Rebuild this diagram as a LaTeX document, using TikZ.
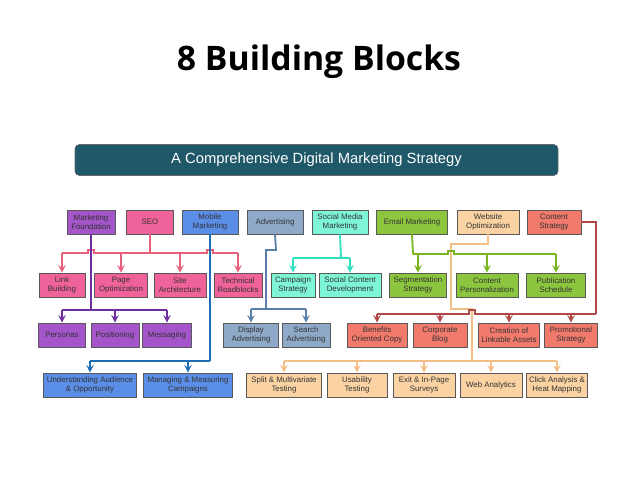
\documentclass[tikz,border=0pt]{standalone}
\usepackage{fontspec}
\setmainfont{Liberation Sans}
\newfontfamily\titlefont{Open Sans}
\usetikzlibrary{calc}

\definecolor{cPurple}{HTML}{A455C9}
\definecolor{cPink}{HTML}{F0639A}
\definecolor{cBlue}{HTML}{5B8EE6}
\definecolor{cGray}{HTML}{8FA9C9}
\definecolor{cTeal}{HTML}{7DF5D6}
\definecolor{cGreen}{HTML}{8CC63F}
\definecolor{cPeach}{HTML}{FBD3A3}
\definecolor{cRed}{HTML}{F27A6D}
\definecolor{lPurple}{HTML}{6F2FA0}
\definecolor{lPink}{HTML}{E8607A}
\definecolor{lBlue}{HTML}{1F6FB5}
\definecolor{lGray}{HTML}{5A80AA}
\definecolor{lTeal}{HTML}{2FE0C0}
\definecolor{lGreen}{HTML}{78B51E}
\definecolor{lPeach}{HTML}{F3BE88}
\definecolor{lRed}{HTML}{B24848}
\definecolor{banner}{HTML}{1F5868}

\tikzset{
  bx/.style={draw=black!65, line width=0.6pt, align=center, inner sep=1pt,
    minimum height=0.6cm, text=black!80,
    font=\fontsize{5.6}{6.4}\selectfont},
  link/.style={line width=1.3pt, -{stealth}},
  line/.style={line width=1.3pt}
}

\begin{document}
\begin{tikzpicture}[x=0.025cm, y=-0.025cm]
            \useasboundingbox (0, 0) rectangle (638, 479);

            % title and banner
            \node[font=\titlefont\bfseries\fontsize{24}{28}\selectfont] (title) at (319, 62) {8 Building Blocks};
            \node[fill=banner, draw=black!60, rounded corners=3pt, text=white, minimum width=483*0.025cm,
                  minimum height=31*0.025cm, font=\fontsize{10.5}{12}\selectfont] (strategy) at (316.5, 160)
                  {A Comprehensive Digital Marketing Strategy};

            % first row
            \node[bx, fill=cPurple, minimum width=48*0.025cm] (foundation) at (91, 222) {Marketing\\Foundation};
            \node[bx, fill=cPink, minimum width=47*0.025cm] (seo) at (150, 222) {SEO};
            \node[bx, fill=cBlue, minimum width=56*0.025cm] (mobile) at (210, 222) {Mobile\\Marketing};
            \node[bx, fill=cGray, minimum width=56*0.025cm] (advert) at (275, 222) {Advertising};
            \node[bx, fill=cTeal, minimum width=56*0.025cm] (social) at (340, 222) {Social Media\\Marketing};
            \node[bx, fill=cGreen, minimum width=71*0.025cm] (email) at (412, 222) {Email Marketing};
            \node[bx, fill=cPeach, minimum width=62*0.025cm] (website) at (488, 222) {Website\\Optimization};
            \node[bx, fill=cRed, minimum width=54*0.025cm] (content) at (554, 222) {Content\\Strategy};

            % second row
            \node[bx, fill=cPink, minimum width=46*0.025cm] (linkb) at (62, 285) {Link\\Building};
            \node[bx, fill=cPink, minimum width=53*0.025cm] (pageopt) at (121, 285) {Page\\Optimization};
            \node[bx, fill=cPink, minimum width=52*0.025cm] (sitearch) at (180, 285) {Site\\Architecture};
            \node[bx, fill=cPink, minimum width=48*0.025cm] (technical) at (238, 285) {Technical\\Roadblocks};
            \node[bx, fill=cTeal, minimum width=44*0.025cm] (campaign) at (293, 285) {Campaign\\Strategy};
            \node[bx, fill=cTeal, minimum width=62*0.025cm] (socialdev) at (350, 285) {Social Content\\Development};
            \node[bx, fill=cGreen, minimum width=57*0.025cm] (segment) at (418, 285) {Segmentation\\Strategy};
            \node[bx, fill=cGreen, minimum width=62*0.025cm] (personal) at (487, 285) {Content\\Personalization};
            \node[bx, fill=cGreen, minimum width=59*0.025cm] (schedule) at (556, 285) {Publication\\Schedule};

            % third row
            \node[bx, fill=cPurple, minimum width=47*0.025cm] (personas) at (62, 335) {Personas};
            \node[bx, fill=cPurple, minimum width=48*0.025cm] (position) at (115, 335) {Positioning};
            \node[bx, fill=cPurple, minimum width=49*0.025cm] (message) at (167, 335) {Messaging};
            \node[bx, fill=cGray, minimum width=55*0.025cm] (display) at (251, 335) {Display\\Advertising};
            \node[bx, fill=cGray, minimum width=48*0.025cm] (search) at (306, 335) {Search\\Advertising};
            \node[bx, fill=cRed, minimum width=60*0.025cm] (benefits) at (377, 335) {Benefits\\Oriented Copy};
            \node[bx, fill=cRed, minimum width=54*0.025cm] (blog) at (440, 335) {Corporate\\Blog};
            \node[bx, fill=cRed, minimum width=61*0.025cm] (linkable) at (509, 335) {Creation of\\Linkable Assets};
            \node[bx, fill=cRed, minimum width=53*0.025cm] (promo) at (571, 335) {Promotional\\Strategy};

            % fourth row
            \node[bx, fill=cBlue, minimum width=93*0.025cm] (audience) at (90, 385) {Understanding Audience\\\& Opportunity};
            \node[bx, fill=cBlue, minimum width=89*0.025cm] (measure) at (188, 385) {Managing \& Measuring\\Campaigns};
            \node[bx, fill=cPeach, minimum width=75*0.025cm] (split) at (284, 385) {Split \& Multivariate\\Testing};
            \node[bx, fill=cPeach, minimum width=60*0.025cm] (usability) at (357, 385) {Usability\\Testing};
            \node[bx, fill=cPeach, minimum width=62*0.025cm] (exit) at (424, 385) {Exit \& In-Page\\Surveys};
            \node[bx, fill=cPeach, minimum width=62*0.025cm] (analytics) at (491, 385) {Web Analytics};
            \node[bx, fill=cPeach, minimum width=61*0.025cm] (click) at (557, 385) {Click Analysis \&\\Heat Mapping};

            % connectors
            \coordinate (seoRail) at (150, 253);
            \draw[line, lPink] (seo.south) -- (seoRail);
            \draw[line, lPink] (62, 253) -- (88, 253) -- (88, 250) -- (94, 250) -- (94, 253)
                  -- (207, 253) -- (207, 250) -- (213, 250) -- (213, 253) -- (238, 253);
            \foreach \n in {linkb, pageopt, sitearch, technical}
                \draw[link, lPink] (\n.north |- seoRail) -- (\n.north);

            \draw[line, lPurple] (foundation.south) -- (91, 310) coordinate (mfRail);
            \draw[line, lPurple] (62, 310) -- (167, 310);
            \foreach \n in {personas, position, message}
                \draw[link, lPurple] (\n.north |- mfRail) -- (\n.north);

            \draw[line, lBlue] (mobile.south) -- (210, 361) coordinate (mmRail);
            \draw[line, lBlue] (90, 361) -- (210, 361);
            \foreach \n in {audience, measure}
                \draw[link, lBlue] (\n.north |- mmRail) -- (\n.north);

            \draw[line, lGray] (advert.south) -- (276, 250) -- (266, 250) -- (266, 309) coordinate (adRail);
            \draw[line, lGray] (251, 309) -- (306, 309);
            \foreach \n in {display, search}
                \draw[link, lGray] (\n.north |- adRail) -- (\n.north);

            \draw[line, lTeal] (social.south) -- (341, 258) coordinate (smRail);
            \draw[line, lTeal] (293, 258) -- (350, 258);
            \foreach \n in {campaign, socialdev}
                \draw[link, lTeal] (\n.north |- smRail) -- (\n.north);

            \draw[line, lPeach] (website.south) -- (488, 244) -- (451, 244) -- (451, 309) -- (472, 309)
                  -- (472, 361) coordinate (woRail);
            \draw[line, lPeach] (284, 361) -- (557, 361);
            \foreach \n in {split, usability, exit, analytics, click}
                \draw[link, lPeach] (\n.north |- woRail) -- (\n.north);

            \draw[line, lGreen] (email.south) -- (413, 254) coordinate (emRail);
            \draw[line, lGreen] (413, 254) -- (448, 254) -- (448, 251) -- (454, 251) -- (454, 254) -- (556, 254);
            \foreach \n in {segment, personal, schedule}
                \draw[link, lGreen] (\n.north |- emRail) -- (\n.north);

            \draw[line, lRed] (content.east) -- (596, 222) -- (596, 314) coordinate (csRail);
            \draw[line, lRed] (596, 314) -- (475, 314) -- (475, 310) -- (469, 310) -- (469, 314) -- (377, 314);
            \foreach \n in {benefits, blog, linkable, promo}
                \draw[link, lRed] (\n.north |- csRail) -- (\n.north);

        \end{tikzpicture}
\end{document}
